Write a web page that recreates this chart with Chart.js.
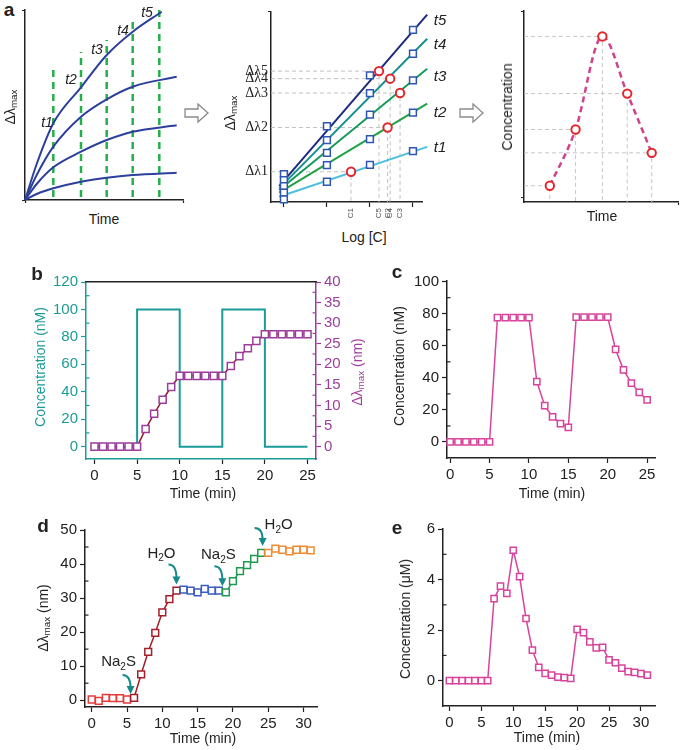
<!DOCTYPE html>
<html>
<head>
<meta charset="utf-8">
<script src="https://cdn.jsdelivr.net/npm/chart.js@4.4.0/dist/chart.umd.min.js"></script>
<style>
body { margin: 0; background: #fff; }
#fig { position: relative; width: 685px; height: 750px; overflow: hidden; font-family: "Liberation Sans", Arial, sans-serif; color: #222; }
#fig canvas { position: absolute; }
.lab { position: absolute; transform: translate(-50%, -50%); white-space: nowrap; font-size: 14px; line-height: 1; }
.rot { transform: translate(-50%, -50%) rotate(-90deg); }
.let { font-weight: bold; font-size: 19px; }
sub { font-size: 70%; vertical-align: -0.25em; line-height: 0; }
svg { position: absolute; }
</style>
</head>
<body>
<div id="fig">
  <canvas id="a1"></canvas><canvas id="a2"></canvas><canvas id="a3"></canvas>
  <canvas id="cb"></canvas><canvas id="cc"></canvas><canvas id="cd"></canvas><canvas id="ce"></canvas>

  <svg style="left:183px;top:103px" width="28" height="22"><polygon points="2,6 15,6 15,1 25,10 15,19 15,14 2,14" fill="#fff" stroke="#8a8a8a" stroke-width="1.3"/></svg>
  <svg style="left:458px;top:103px" width="28" height="22"><polygon points="2,6 15,6 15,1 25,10 15,19 15,14 2,14" fill="#fff" stroke="#8a8a8a" stroke-width="1.3"/></svg>

  <div class="lab let" style="left:9px;top:9px">a</div>
  <div class="lab let" style="left:37px;top:273px">b</div>
  <div class="lab let" style="left:397px;top:271px">c</div>
  <div class="lab let" style="left:43px;top:525px">d</div>
  <div class="lab let" style="left:397px;top:527px">e</div>

  <div class="lab rot" style="left:10px;top:107px">Δλ<sub>max</sub></div>
  <div class="lab" style="left:104px;top:219px">Time</div>
  <div class="lab rot" style="left:230px;top:113px">Δλ<sub>max</sub></div>
  <div class="lab" style="left:364px;top:237px">Log [C]</div>
  <div class="lab rot" style="left:507px;top:107px">Concentration</div>
  <div class="lab" style="left:602px;top:216px">Time</div>

  <div class="lab rot" style="left:40px;top:367px;color:#1a9c99">Concentration (nM)</div>
  <div class="lab rot" style="left:357px;top:372px;color:#a03f9e">Δλ<sub>max</sub> (nm)</div>
  <div class="lab" style="left:203px;top:493px">Time (min)</div>
  <div class="lab rot" style="left:399px;top:366px">Concentration (nM)</div>
  <div class="lab" style="left:552px;top:493px">Time (min)</div>
  <div class="lab rot" style="left:43px;top:618px">Δλ<sub>max</sub> (nm)</div>
  <div class="lab" style="left:203px;top:738px">Time (min)</div>
  <div class="lab rot" style="left:405px;top:619px">Concentration (μM)</div>
  <div class="lab" style="left:547px;top:737px">Time (min)</div>
</div>
<script>
// ---- panel a (schematic) ----
// left: shift vs time curves
var a1CurveX = [0, 11.7, 28.3, 56, 81.7, 107.7, 151.7];
var a1Curve1X = [0, 11.7, 28.3, 56, 81.7, 107.7, 136.7];
var a1Curve1 = [0, 36, 76.7, 112.7, 145, 168.3, 188.3];
var a1Curve2 = [0, 25, 53.3, 83.3, 100.7, 113.3, 123.3];
var a1Curve3 = [0, 16, 32.7, 48.3, 60, 68.3, 74.7];
var a1Curve4 = [0, 6, 11.7, 18.3, 22.3, 25, 27.3];
var a1DashX = [28.3, 56, 81.7, 107.7, 134.3];
var a1DashTop = [130, 148, 160, 178, 192];
var a1LabelX = [22, 46, 72, 98, 122];
var a1LabelY = [77, 120, 150, 169, 187];
var tNames = ['t1', 't2', 't3', 't4', 't5'];

// middle: calibration lines vs log C
var a2LogC = [1, 2, 3, 4];
var a2Sq = [
  [2.7, 20.3, 37.3, 51],     // t1
  [9.3, 37, 63, 89.7],       // t2
  [16, 49.3, 87.7, 122],     // t3
  [22, 62, 109.3, 148.7],    // t4
  [28, 76, 127, 172.7]       // t5
];
var a2FitX = [0.89, 4.33];
var a2Fit = [[5.3, 55.3], [9.3, 98.7], [12, 133.7], [13.7, 163.7], [16, 188]];
var a2Cx = [2.56, 3.41, 3.70, 3.47, 3.21];
var a2Cy = [30.3, 74.7, 109.3, 123.7, 131.3];
var a2CNames = ['C1', 'C2', 'C3', 'C4', 'C5'];
var a2DlNames = ['Δλ1', 'Δλ2', 'Δλ3', 'Δλ4', 'Δλ5'];
var a2LabelX = [4.63, 4.63, 4.63, 4.63, 4.63];
var a2LabelY = [54, 89, 126, 158, 182];

// right: concentration vs time
var a3Time = [26.7, 53.3, 81, 106.7, 132];
var a3Conc = [16.3, 72.7, 166, 108.7, 49.3];

// ---- panel b ----
var bTime = [0, 5, 10, 15, 20, 25];
var bConc = [0, 100, 0, 100, 0, 0];
var bShiftT = [0,1,2,3,4,5,6,7,8,9,10,11,12,13,14,15,16,17,18,19,20,21,22,23,24,25];
var bShift = [0,0,0,0,0,0,4.3,8.0,11.4,14.5,17.2,17.2,17.2,17.2,17.2,17.2,19.6,22.0,23.9,25.7,27.3,27.3,27.3,27.3,27.3,27.3];
var bXTicks = [0, 5, 10, 15, 20, 25];
var bConcTicks = [0, 20, 40, 60, 80, 100, 120];
var bConcMinor = [10, 30, 50, 70, 90, 110];
var bShiftTicks = [0, 5, 10, 15, 20, 25, 30, 35, 40];
var bShiftMinor = [2.5, 7.5, 12.5, 17.5, 22.5, 27.5, 32.5, 37.5];

// ---- panel c ----
var cTime = [0,1,2,3,4,5,6,7,8,9,10,11,12,13,14,15,16,17,18,19,20,21,22,23,24,25];
var cConc = [0,0,0,0,0,0,77.5,77.5,77.5,77.5,77.5,37.7,22.6,15.6,11.4,9.1,77.8,77.8,77.8,77.8,77.8,57.7,45,36.7,30.9,26.3];
var cXTicks = [0, 5, 10, 15, 20, 25];
var cYTicks = [0, 20, 40, 60, 80, 100];
var cYMinor = [10, 30, 50, 70, 90];

// ---- panel d ----
var dTime = [0,1,2,3,4,5,6,7,8,9,10,11,12,13,14,15,16,17,18,19,20,21,22,23,24,25,26,27,28,29,30,31];
var dShift = [0.2,-0.2,0.7,0.6,0.6,0.2, 0.7,7.6,14.2,19.8,25.8,29.7,32.2, 32.5,32.2,31.7,32.7,32.2,32.2, 31.7,35.0,37.9,39.7,41.5,43.3, 43.3,44.5,44.2,43.7,44.2,44.2,44.0];
var dPhase = [0,0,0,0,0,0, 1,1,1,1,1,1,1, 2,2,2,2,2,2, 3,3,3,3,3,3, 4,4,4,4,4,4,4];
var dPalette = ['#e8393a', '#a3202a', '#3d5cc0', '#1f9950', '#f28b30'];
var dXTicks = [0, 5, 10, 15, 20, 25, 30];
var dYTicks = [0, 10, 20, 30, 40, 50];
var dYMinor = [5, 15, 25, 35, 45];
var dNoteText = ['Na2S', 'H2O', 'Na2S', 'H2O'];
var dNoteX = [5.5, 12, 18.5, 24.2];
var dNoteY = [1.8, 34, 33.5, 45.3];

// ---- panel e ----
var eTime = dTime;
var eConc = [0,0,0,0,0,0,0,3.25,3.74,3.45,5.16,4.12,2.46,1.21,0.53,0.29,0.22,0.14,0.12,0.09,2.03,1.90,1.54,1.30,1.32,0.82,0.71,0.50,0.36,0.33,0.28,0.22];
var eXTicks = [0, 5, 10, 15, 20, 25, 30];
var eYTicks = [0, 2, 4, 6];
var eYMinor = [1, 3, 5];

var TEAL = '#1a9c99', PURPLE = '#9c3d9c', PINK = '#d8449c', INK = '#222';

Chart.defaults.font.family = '"Liberation Sans", Arial, sans-serif';
Chart.defaults.font.size = 15;
Chart.defaults.color = INK;
Chart.defaults.animation = false;
Chart.defaults.plugins.legend.display = false;
Chart.defaults.plugins.tooltip.enabled = false;

function pts(xs, ys) {
  return xs.map(function (x, i) { return { x: x, y: ys[i] }; });
}

// put a canvas so that its chart area lands on area = [left, top, right, bottom] of the page
function place(id, area, pad) {
  var c = document.getElementById(id);
  var w = Math.round(area[2] - area[0] + pad[0] + pad[2]);
  var h = Math.round(area[3] - area[1] + pad[1] + pad[3]);
  c.width = w; c.height = h;
  c.style.width = w + 'px'; c.style.height = h + 'px';
  c.style.left = (area[0] - pad[0]) + 'px';
  c.style.top = (area[1] - pad[1]) + 'px';
  return c;
}

function axis(pos, min, max, vals, size, color, labelColor) {
  var horiz = pos === 'bottom' || pos === 'top';
  return {
    type: 'linear', position: pos, min: min, max: max,
    afterBuildTicks: function (s) { s.ticks = vals.map(function (v) { return { value: v }; }); },
    afterFit: function (s) {
      if (horiz) { s.height = size; s.paddingLeft = 0; s.paddingRight = 0; }
      else { s.width = size; s.paddingTop = 0; s.paddingBottom = 0; }
    },
    border: { color: color, width: 1.5 },
    grid: { drawOnChartArea: false, color: color, tickLength: 5, tickWidth: 1.2 },
    ticks: { color: labelColor || INK, padding: 3, autoSkip: false, maxRotation: 0 }
  };
}

function minorTicks(list) {
  return {
    id: 'minorTicks',
    afterDraw: function (chart) {
      var ctx = chart.ctx;
      ctx.save();
      list.forEach(function (m) {
        var s = chart.scales[m.axis];
        ctx.strokeStyle = m.color; ctx.lineWidth = 1.2;
        m.values.forEach(function (v) {
          var p = s.getPixelForValue(v);
          ctx.beginPath();
          if (s.position === 'left') { ctx.moveTo(s.right, p); ctx.lineTo(s.right + 3.5, p); }
          else { ctx.moveTo(s.left, p); ctx.lineTo(s.left - 3.5, p); }
          ctx.stroke();
        });
      });
      ctx.restore();
    }
  };
}

function textLabels(xs, ys, texts, font, color) {
  return {
    id: 'textLabels',
    afterDatasetsDraw: function (chart) {
      var ctx = chart.ctx, sx = chart.scales.x, sy = chart.scales.y;
      ctx.save();
      ctx.font = font; ctx.fillStyle = color;
      ctx.textAlign = 'center'; ctx.textBaseline = 'middle';
      texts.forEach(function (t, i) {
        ctx.fillText(t, sx.getPixelForValue(xs[i]), sy.getPixelForValue(ys[i]));
      });
      ctx.restore();
    }
  };
}

function drawChem(ctx, text, cx, cy) {
  var parts = text.match(/\d+|\D+/g);
  var big = '15px "Liberation Sans", Arial, sans-serif';
  var small = '10px "Liberation Sans", Arial, sans-serif';
  var w = 0;
  parts.forEach(function (p) { ctx.font = /\d/.test(p) ? small : big; w += ctx.measureText(p).width; });
  var x = cx - w / 2;
  ctx.textAlign = 'left'; ctx.textBaseline = 'middle';
  parts.forEach(function (p) {
    var sub = /\d/.test(p);
    ctx.font = sub ? small : big;
    ctx.fillText(p, x, sub ? cy + 5 : cy);
    x += ctx.measureText(p).width;
  });
}

// curved teal arrows with their labels, tip placed on a data position
var noteFrom = [[-8, -19], [-8, -20], [-8, -20], [-8, -18]];
var noteAt = [[-12, -32], [-15, -31], [-4, -31], [16, -21]];
var arrowNotes = {
  id: 'arrowNotes',
  afterDatasetsDraw: function (chart) {
    var ctx = chart.ctx, sx = chart.scales.x, sy = chart.scales.y;
    ctx.save();
    dNoteText.forEach(function (t, i) {
      var tx = sx.getPixelForValue(dNoteX[i]), ty = sy.getPixelForValue(dNoteY[i]);
      var fx = tx + noteFrom[i][0], fy = ty + noteFrom[i][1];
      ctx.strokeStyle = '#16898a'; ctx.fillStyle = '#16898a'; ctx.lineWidth = 2;
      ctx.beginPath(); ctx.moveTo(fx, fy); ctx.quadraticCurveTo(tx, fy, tx, ty - 6); ctx.stroke();
      ctx.beginPath(); ctx.moveTo(tx - 4, ty - 8); ctx.lineTo(tx + 4, ty - 8); ctx.lineTo(tx, ty); ctx.closePath(); ctx.fill();
      ctx.fillStyle = INK;
      drawChem(ctx, t, tx + noteAt[i][0], ty + noteAt[i][1]);
    });
    ctx.restore();
  }
};

// ---------- a1 ----------
(function () {
  var area = [25, 10, 183, 200], X = [0, 158], Y = [0, 190];
  var ds = [];
  [[a1Curve1X, a1Curve1], [a1CurveX, a1Curve2], [a1CurveX, a1Curve3], [a1CurveX, a1Curve4]].forEach(function (c) {
    ds.push({ data: pts(c[0], c[1]), showLine: true, borderColor: '#2d3f9d', borderWidth: 2,
      pointRadius: 0, cubicInterpolationMode: 'monotone', clip: false });
  });
  a1DashX.forEach(function (x, i) {
    ds.push({ data: [{ x: x, y: 3 }, { x: x, y: a1DashTop[i] }], showLine: true, borderColor: '#22b04b',
      borderWidth: 2.5, borderDash: [7, 5], pointRadius: 0, clip: false });
  });
  var xa = axis('bottom', X[0], X[1], X, 10, INK);
  var ya = axis('left', Y[0], Y[1], Y, 10, INK);
  xa.ticks.callback = ya.ticks.callback = function () { return ''; };
  xa.grid.tickLength = ya.grid.tickLength = 3;
  new Chart(place('a1', area, [10, 6, 6, 10]), {
    type: 'scatter', data: { datasets: ds },
    options: { responsive: false, layout: { padding: { top: 6, right: 6 } }, scales: { x: xa, y: ya } },
    plugins: [textLabels(a1LabelX, a1LabelY, tNames, 'italic 14px "Liberation Sans", Arial, sans-serif', INK)]
  });
})();

// ---------- a2 ----------
(function () {
  var area = [271, 10.7, 422, 202], X = [0.70, 4.21], Y = [0, 191.3];
  var lineCols = ['#4fbfe0', '#21a245', '#159a5c', '#16918f', '#1d2a80'];
  var ds = [];
  ds.push({ data: pts(a2Cx, a2Cy), pointStyle: 'circle', pointRadius: 4.2, pointBorderWidth: 2,
    pointBorderColor: '#e3262c', pointBackgroundColor: '#fff', clip: false });
  a2Sq.forEach(function (s) {
    ds.push({ data: pts(a2LogC, s), pointStyle: 'rect', pointRadius: 4.8, pointBorderWidth: 1.5,
      pointBorderColor: '#2f54b2', pointBackgroundColor: '#fff', clip: false });
  });
  a2Fit.forEach(function (f, i) {
    ds.push({ data: pts(a2FitX, f), showLine: true, borderColor: lineCols[i], borderWidth: 2,
      pointRadius: 0, clip: false });
  });
  a2Cx.forEach(function (x, i) {
    ds.push({ data: [{ x: X[0], y: a2Cy[i] }, { x: x, y: a2Cy[i] }, { x: x, y: Y[0] }], showLine: true,
      borderColor: '#c2c2c2', borderWidth: 1, borderDash: [4, 3], pointRadius: 0 });
  });
  var xa = axis('bottom', X[0], X[1], a2LogC.concat(a2Cx), 26, INK);
  xa.ticks.callback = function (v) { var k = a2Cx.indexOf(v); return k < 0 ? '' : a2CNames[k]; };
  xa.ticks.font = { size: 8 };
  xa.ticks.color = '#555';
  xa.ticks.minRotation = 90; xa.ticks.maxRotation = 90; xa.ticks.padding = 1;
  xa.grid.tickColor = function (c) { return c.tick && a2LogC.indexOf(c.tick.value) >= 0 ? INK : 'rgba(0,0,0,0)'; };
  var ya = axis('left', Y[0], Y[1], a2Cy.concat([Y[1]]), 38, INK);
  ya.ticks.callback = function (v) { var k = a2Cy.indexOf(v); return k < 0 ? '' : a2DlNames[k]; };
  ya.ticks.font = { family: '"Liberation Serif", "DejaVu Serif", serif', size: 14 };
  ya.ticks.padding = 0;
  ya.grid.tickLength = 3;
  ya.grid.tickColor = function (c) { return c.tick && c.tick.value === Y[1] ? INK : 'rgba(0,0,0,0)'; };
  new Chart(place('a2', area, [38, 6, 32, 26]), {
    type: 'scatter', data: { datasets: ds },
    options: { responsive: false, layout: { padding: { top: 6, right: 32 } }, scales: { x: xa, y: ya } },
    plugins: [textLabels(a2LabelX, a2LabelY, ['t1', 't2', 't3', 't4', 't5'], 'italic 15px "Liberation Sans", Arial, sans-serif', INK)]
  });
})();

// ---------- a3 ----------
(function () {
  var area = [524, 10.7, 684, 202], X = [0, 160], Y = [0, 191.3];
  var ds = [];
  ds.push({ data: pts(a3Time, a3Conc), pointStyle: 'circle', pointRadius: 4.2, pointBorderWidth: 2,
    pointBorderColor: '#e3262c', pointBackgroundColor: '#fff', clip: false });
  ds.push({ data: pts(a3Time, a3Conc), showLine: true, borderColor: '#d3418c', borderWidth: 2.5,
    borderDash: [6, 4], pointRadius: 0, cubicInterpolationMode: 'monotone', clip: false });
  a3Time.forEach(function (x, i) {
    ds.push({ data: [{ x: X[0], y: a3Conc[i] }, { x: x, y: a3Conc[i] }, { x: x, y: Y[0] }], showLine: true,
      borderColor: '#c6c6c6', borderWidth: 1, borderDash: [4, 3], pointRadius: 0 });
  });
  var xa = axis('bottom', X[0], X[1], [X[1]], 10, INK);
  var ya = axis('left', Y[0], Y[1], [5, Y[1]], 10, INK);
  xa.ticks.callback = ya.ticks.callback = function () { return ''; };
  xa.grid.tickLength = ya.grid.tickLength = 3;
  new Chart(place('a3', area, [10, 6, 1, 10]), {
    type: 'scatter', data: { datasets: ds },
    options: { responsive: false, layout: { padding: { top: 6, right: 1 } }, scales: { x: xa, y: ya } }
  });
})();

// ---------- b ----------
(function () {
  var area = [86, 282, 316, 459];
  var xa = axis('bottom', -1, 26, bXTicks, 26, TEAL, INK);
  xa.grid.color = INK;
  var ya = axis('left', -9, 120, bConcTicks, 44, TEAL, TEAL);
  var y2 = axis('right', -3, 40, bShiftTicks, 40, PURPLE, PURPLE);
  var top = { type: 'linear', position: 'top', min: -1, max: 26, ticks: { display: false },
    grid: { display: false }, border: { color: INK, width: 1.5 },
    afterFit: function (s) { s.height = 0; s.paddingLeft = 0; s.paddingRight = 0; } };
  new Chart(place('cb', area, [44, 10, 40, 26]), {
    type: 'scatter',
    data: { datasets: [
      { data: pts(bShiftT, bShift), yAxisID: 'y2', showLine: true, borderColor: '#8e1c30', borderWidth: 1.5,
        pointStyle: 'rect', pointRadius: 5, pointBorderWidth: 1.5, pointBorderColor: PURPLE,
        pointBackgroundColor: '#fff', clip: false },
      { data: pts(bTime, bConc), yAxisID: 'y', showLine: true, stepped: 'before', borderColor: TEAL,
        borderWidth: 2, pointRadius: 0, clip: false }
    ] },
    options: { responsive: false, layout: { padding: { top: 10 } },
      scales: { x: xa, y: ya, y2: y2, xTop: top } },
    plugins: [minorTicks([{ axis: 'y', values: bConcMinor, color: TEAL }, { axis: 'y2', values: bShiftMinor, color: PURPLE }])]
  });
})();

// ---------- c ----------
(function () {
  var area = [446.7, 281, 655, 458];
  new Chart(place('cc', area, [40, 10, 14, 26]), {
    type: 'scatter',
    data: { datasets: [
      { data: pts(cTime, cConc), showLine: true, borderColor: PINK, borderWidth: 1.5, pointStyle: 'rect',
        pointRadius: 4.4, pointBorderWidth: 1.5, pointBorderColor: PINK, pointBackgroundColor: '#fff', clip: false }
    ] },
    options: { responsive: false, layout: { padding: { top: 10, right: 14 } },
      scales: { x: axis('bottom', -0.4, 26, cXTicks, 26, INK), y: axis('left', -10, 100.4, cYTicks, 40, INK) } },
    plugins: [minorTicks([{ axis: 'y', values: cYMinor, color: INK }])]
  });
})();

// ---------- d ----------
(function () {
  var area = [85, 530, 316.7, 706.7];
  new Chart(place('cd', area, [44, 22, 14, 26]), {
    type: 'scatter',
    data: { datasets: [
      { data: pts(dTime, dShift), showLine: true, borderWidth: 1.5, pointStyle: 'rect', pointRadius: 4.8,
        pointBorderWidth: 1.5, pointBackgroundColor: '#fff', clip: false,
        borderColor: dPalette[1],
        pointBorderColor: dPhase.map(function (p) { return dPalette[p]; }),
        segment: { borderColor: function (c) { return dPalette[dPhase[c.p1DataIndex]]; } } }
    ] },
    options: { responsive: false, layout: { padding: { top: 22, right: 14 } },
      scales: { x: axis('bottom', -0.95, 31.9, dXTicks, 26, INK), y: axis('left', -2, 50, dYTicks, 44, INK) } },
    plugins: [arrowNotes, minorTicks([{ axis: 'y', values: dYMinor, color: INK }])]
  });
})();

// ---------- e ----------
(function () {
  var area = [442.7, 529, 655, 706];
  new Chart(place('ce', area, [40, 10, 14, 26]), {
    type: 'scatter',
    data: { datasets: [
      { data: pts(eTime, eConc), showLine: true, borderColor: PINK, borderWidth: 1.5, pointStyle: 'rect',
        pointRadius: 4.4, pointBorderWidth: 1.5, pointBorderColor: PINK, pointBackgroundColor: '#fff', clip: false }
    ] },
    options: { responsive: false, layout: { padding: { top: 10, right: 14 } },
      scales: { x: axis('bottom', -1, 32.2, eXTicks, 26, INK), y: axis('left', -1, 6, eYTicks, 40, INK) } },
    plugins: [minorTicks([{ axis: 'y', values: eYMinor, color: INK }])]
  });
})();
</script>
</body>
</html>
